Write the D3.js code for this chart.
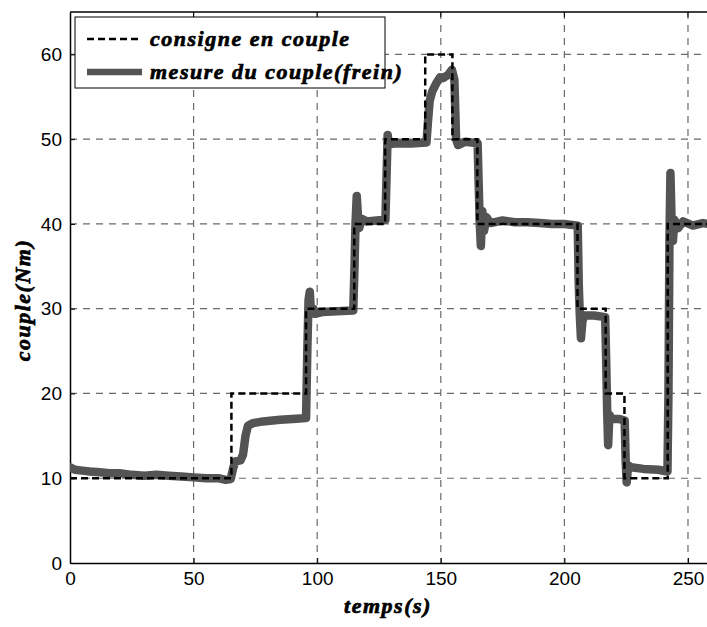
<!DOCTYPE html>
<html>
<head>
<meta charset="utf-8">
<script src="https://cdn.jsdelivr.net/npm/d3@7"></script>
<style>
  html, body { margin: 0; padding: 0; background: #fff; overflow: hidden; }
  svg { display: block; }
</style>
</head>
<body>
<svg id="chart" width="707" height="627"></svg>
<script>
// ---- Data ----
const setpointTimes  = [0, 65.3, 95.5, 115, 127.5, 143.7, 154.7, 164.8, 205.3, 216.7, 224.3, 241.8, 260];
const setpointValues = [10, 20, 30, 40, 50, 60, 50, 40, 30, 20, 10, 40, 40];

const measureTimes = [
  0, 2, 5, 8, 12, 16, 20, 25, 30, 35, 40, 45, 50, 55, 60, 63, 65,
  66, 67, 69, 70, 71, 72, 74, 78, 85, 90, 95.5,
  96, 96.5, 97, 97.5, 98.5, 99, 102, 108, 114.6,
  115.1, 115.5, 116, 116.7, 117, 118, 120, 124, 127.6,
  128, 128.5, 129, 132, 138, 144.2,
  144.8, 145.5, 146.5, 148, 149.7, 151, 153, 154.5, 155.5,
  156.2, 157, 160, 164.9,
  165.3, 165.7, 166.2, 166.8, 167.5, 168.5, 170, 175, 180, 185, 190, 195, 200, 205.4,
  205.8, 206.2, 206.7, 207.3, 208, 212, 216.5,
  216.9, 217.3, 217.7, 218.2, 219, 222, 224.4,
  224.8, 225.2, 225.8, 227, 232, 238, 241.7,
  242.1, 242.5, 242.9, 243.4, 243.9, 244.5, 246, 248, 252, 256, 260
];
const measureValues = [
  11.3, 11.0, 10.9, 10.8, 10.7, 10.6, 10.6, 10.4, 10.3, 10.4, 10.3, 10.2, 10.1, 10.0, 10.0, 9.8, 9.9,
  11.2, 12.0, 12.1, 12.8, 15.0, 16.2, 16.5, 16.7, 16.9, 17.0, 17.1,
  25.0, 31.0, 32.0, 29.5, 30.0, 29.4, 29.6, 29.7, 29.8,
  35.0, 40.0, 43.3, 40.0, 39.5, 40.6, 40.3, 40.4, 40.5,
  45.0, 50.5, 49.4, 49.5, 49.5, 49.6,
  52.0, 54.5, 55.6, 56.5, 57.3, 57.2, 57.6, 58.2, 57.0,
  50.0, 49.3, 49.7, 49.5,
  45.0, 40.5, 37.4, 41.5, 39.2, 40.8, 40.1, 40.4, 40.2, 40.2, 40.1, 40.0, 40.0, 39.8,
  33.0, 29.5, 26.5, 28.5, 29.2, 29.2, 29.0,
  24.0, 18.0, 13.9, 17.5, 17.0, 17.0, 16.8,
  12.0, 9.5, 11.5, 11.3, 11.1, 11.0, 10.8,
  20.0, 38.0, 46.0, 40.0, 38.0, 40.5, 39.5, 40.3, 39.8, 40.1, 39.9
];

const xTicks = [0, 50, 100, 150, 200, 250];
const yTicks = [0, 10, 20, 30, 40, 50, 60];
const legendLabels = ["consigne en couple", "mesure du couple(frein)"];
const xTitle = "temps(s)";
const yTitle = "couple(Nm)";

// ---- Layout ----
const svg = d3.select("#chart");
const pLeft = 70, pTop = 12, pBottom = 563, pRight = 712.7;
const x = d3.scaleLinear().domain([0, 260]).range([pLeft, pRight]);
const y = d3.scaleLinear().domain([0, 65]).range([pBottom, pTop]);

const serif = "'Liberation Serif', 'Times New Roman', serif";
const sans = "'Liberation Sans', Arial, sans-serif";

svg.append("defs").append("clipPath").attr("id", "clip")
  .append("rect").attr("x", pLeft).attr("y", pTop).attr("width", pRight - pLeft).attr("height", pBottom - pTop);

// Grid
const grid = svg.append("g");
grid.selectAll("line.vg").data(xTicks.filter(d => d > 0)).enter().append("line")
  .attr("x1", d => x(d)).attr("x2", d => x(d)).attr("y1", pTop).attr("y2", pBottom)
  .attr("stroke", "#6a6a6a").attr("stroke-width", 1.2).attr("stroke-dasharray", "7,6");
grid.selectAll("line.hg").data(yTicks.filter(d => d > 0)).enter().append("line")
  .attr("x1", pLeft).attr("x2", pRight).attr("y1", d => y(d)).attr("y2", d => y(d))
  .attr("stroke", "#6a6a6a").attr("stroke-width", 1.2).attr("stroke-dasharray", "7,6");

// Axes
const xAxis = d3.axisBottom(x).tickValues(xTicks).tickSizeInner(-5).tickSizeOuter(0).tickPadding(9);
const yAxis = d3.axisLeft(y).tickValues(yTicks).tickSizeInner(-5).tickSizeOuter(0).tickPadding(8);
const gx = svg.append("g").attr("transform", `translate(0,${pBottom})`).call(xAxis);
const gy = svg.append("g").attr("transform", `translate(${pLeft},0)`).call(yAxis);
[gx, gy].forEach(g => {
  g.select(".domain").attr("stroke", "#000").attr("stroke-width", 1.5);
  g.selectAll(".tick line").attr("stroke", "#000");
  g.selectAll(".tick text").attr("fill", "#000").style("font-family", sans).style("font-size", "19px");
});
// top border
svg.append("line").attr("x1", pLeft).attr("x2", pRight).attr("y1", pTop).attr("y2", pTop)
  .attr("stroke", "#000").attr("stroke-width", 1.5);
// top ticks
svg.selectAll("line.tt").data(xTicks.filter(d => d > 0)).enter().append("line")
  .attr("x1", d => x(d)).attr("x2", d => x(d)).attr("y1", pTop).attr("y2", pTop + 5).attr("stroke", "#000");

// Lines
const plot = svg.append("g").attr("clip-path", "url(#clip)");
const setpoint = setpointTimes.map((t, i) => [t, setpointValues[i]]);
const measure = measureTimes.map((t, i) => [t, measureValues[i]]);

plot.append("path").datum(measure)
  .attr("d", d3.line().x(d => x(d[0])).y(d => y(d[1])))
  .attr("fill", "none").attr("stroke", "#545454").attr("stroke-width", 8.5)
  .attr("stroke-linejoin", "round").attr("stroke-linecap", "round");

plot.append("path").datum(setpoint)
  .attr("d", d3.line().curve(d3.curveStepAfter).x(d => x(d[0])).y(d => y(d[1])))
  .attr("fill", "none").attr("stroke", "#000").attr("stroke-width", 2.5)
  .attr("stroke-dasharray", "7,4");

// Legend
const lg = svg.append("g");
lg.append("rect").attr("x", 75).attr("y", 17).attr("width", 310).attr("height", 71)
  .attr("fill", "#fff").attr("stroke", "#000").attr("stroke-width", 1);
lg.append("line").attr("x1", 87).attr("x2", 142).attr("y1", 39).attr("y2", 39)
  .attr("stroke", "#000").attr("stroke-width", 2.5).attr("stroke-dasharray", "7,4");
lg.append("line").attr("x1", 87).attr("x2", 142).attr("y1", 72).attr("y2", 72)
  .attr("stroke", "#545454").attr("stroke-width", 6.5);
legendLabels.forEach((t, i) => {
  lg.append("text").attr("x", 150).attr("y", 39 + i * 33 + 7).text(t)
    .style("font-family", serif).style("font-size", "22px").style("font-weight", "bold")
    .style("font-style", "italic").style("letter-spacing", "1.5px")
    .attr("fill", "#000").attr("stroke", "#000").attr("stroke-width", 0.7);
});

// Axis titles
svg.append("text").attr("x", 388).attr("y", 613).attr("text-anchor", "middle").text(xTitle)
  .style("font-family", serif).style("font-size", "22px").style("font-weight", "bold")
  .style("font-style", "italic").style("letter-spacing", "1.5px")
  .attr("stroke", "#000").attr("stroke-width", 0.7);
svg.append("text").attr("transform", "translate(30,300) rotate(-90)").attr("text-anchor", "middle").text(yTitle)
  .style("font-family", serif).style("font-size", "22px").style("font-weight", "bold")
  .style("font-style", "italic").style("letter-spacing", "1.5px")
  .attr("stroke", "#000").attr("stroke-width", 0.7);
</script>
</body>
</html>
